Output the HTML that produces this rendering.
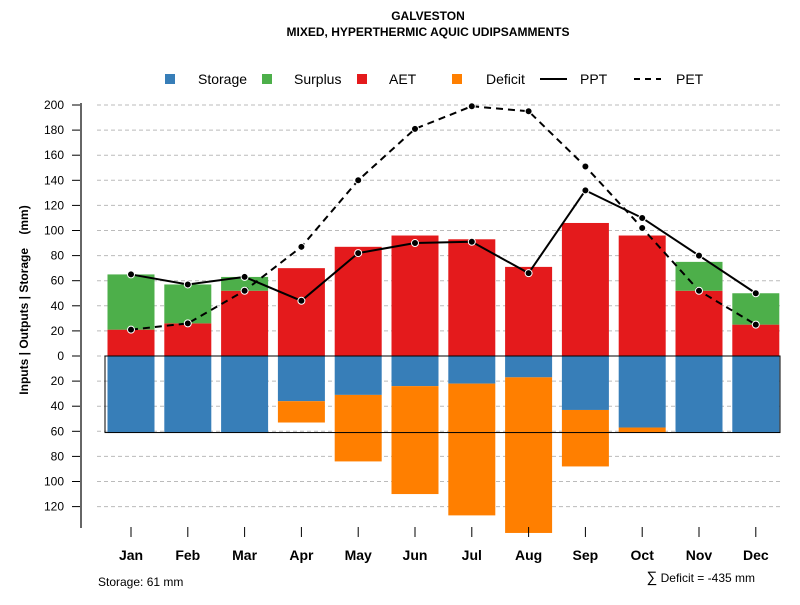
<!DOCTYPE html>
<html><head><meta charset="utf-8"><style>
body{margin:0;background:#fff}
svg text{font-family:"Liberation Sans",sans-serif}
</style></head><body>
<svg id="c" width="800" height="600" xmlns="http://www.w3.org/2000/svg">
<text x="428" y="20" font-size="12" font-weight="bold" text-anchor="middle">GALVESTON</text>
<text x="428" y="36" font-size="12" font-weight="bold" text-anchor="middle">MIXED, HYPERTHERMIC AQUIC UDIPSAMMENTS</text>
<g id="grid"></g><g id="bars"></g><g id="lines"></g><g id="axes"></g>
<g font-size="14">
<rect x="165" y="74" width="10" height="10" fill="#377eb8"/>
<text x="198" y="84">Storage</text>
<rect x="262" y="74" width="10" height="10" fill="#4daf4a"/>
<text x="294" y="84">Surplus</text>
<rect x="357" y="74" width="10" height="10" fill="#e41a1c"/>
<text x="389" y="84">AET</text>
<rect x="452" y="74" width="10" height="10" fill="#ff7f00"/>
<text x="486" y="84">Deficit</text>
<line x1="540" y1="79" x2="567" y2="79" stroke="#000" stroke-width="2"/>
<text x="580" y="84">PPT</text>
<line x1="634" y1="79" x2="661" y2="79" stroke="#000" stroke-width="2" stroke-dasharray="6,5"/>
<text x="676" y="84">PET</text>
</g>
<text transform="translate(28,300) rotate(-90)" font-size="12" font-weight="bold" text-anchor="middle">Inputs | Outputs | Storage&#160;&#160;&#160;&#160;(mm)</text>
<text x="98" y="586" font-size="12">Storage: 61 mm</text>
<text x="755" y="582" font-size="12" text-anchor="end"><tspan font-size="15">∑</tspan> Deficit = -435 mm</text>
</svg>
<script>
const months=["Jan","Feb","Mar","Apr","May","Jun","Jul","Aug","Sep","Oct","Nov","Dec"];
const ppt=[65,57,63,44,82,90,91,66,132,110,80,50];
const pet=[21,26,52,87,140,181,199,195,151,102,52,25];
const aet=[21,26,52,70,87,96,93,71,106,96,52,25];
const surplus=[44,31,11,0,0,0,0,0,0,0,23,25];
const storage=[61,61,61,36,31,24,22,17,43,57,61,61];
const deficit=[0,0,0,17,53,86,105,124,45,4,0,0];
const yTicks=[200,180,160,140,120,100,80,60,40,20,0,20,40,60,80,100,120];
const capacity=61;
const NS="http://www.w3.org/2000/svg";
const y=v=>356-v*1.255;
const xc=i=>131+i*56.8;
const bw=47;
function mk(p,t,a){const e=document.createElementNS(NS,t);for(const k in a)e.setAttribute(k,a[k]);document.getElementById(p).appendChild(e);return e;}
yTicks.forEach((t,i)=>{const v=i<=10?t:-t;
 const g=mk("grid","line",{x1:97,x2:782,y1:y(v),y2:y(v),stroke:"#bbb","stroke-dasharray":"4,3"});
 
 
 const tk=mk("axes","line",{x1:72,x2:81,y1:y(v),y2:y(v),stroke:"#000"});
 
 
 const tx=mk("axes","text",{x:64,y:y(v)+4,"font-size":12,"text-anchor":"end"});tx.textContent=t;
 
 
});
const ax=mk("axes","line",{x1:81,x2:81,y1:y(200)-2,y2:528,stroke:"#666","stroke-width":2});


months.forEach((m,i)=>{
 const x0=xc(i)-bw/2;
 const r=(n,c,v0,v1)=>{const e=mk("bars","rect",{x:x0,width:bw,y:Math.min(y(v0),y(v1)),height:Math.abs(y(v0)-y(v1)),fill:c});
  
  };
 r("aet","#e41a1c",0,aet[i]);
 if(surplus[i]>0)r("surplus","#4daf4a",aet[i],aet[i]+surplus[i]);
 r("storage","#377eb8",0,-storage[i]);
 if(deficit[i]>0)r("deficit","#ff7f00",-storage[i],-storage[i]-deficit[i]);
 const tk=mk("axes","line",{x1:xc(i),x2:xc(i),y1:527,y2:537,stroke:"#000"});
 
 
 const tx=mk("axes","text",{x:xc(i),y:560,"font-size":14,"font-weight":"bold","text-anchor":"middle"});tx.textContent=m;
 
 
});
const box=mk("bars","rect",{x:105,y:y(0),width:675,height:y(-capacity)-y(0),fill:"none",stroke:"#000"});


function series(d,n,dash){
 const p=mk("lines","polyline",{points:d.map((v,i)=>xc(i)+","+y(v)).join(" "),fill:"none",stroke:"#000","stroke-width":2,"stroke-dasharray":dash});
 
 
 d.forEach((v,i)=>{const c=mk("lines","circle",{cx:xc(i),cy:y(v),r:3.5,fill:"#000",stroke:"#fff","stroke-width":1});
  
  });
}
series(pet,"pet","7,5");
series(ppt,"ppt","none");
</script>
</body></html>
